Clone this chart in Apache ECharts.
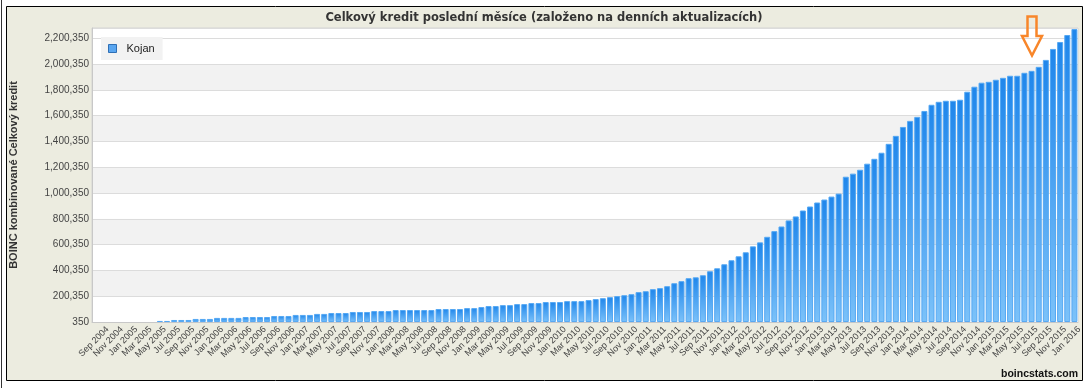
<!DOCTYPE html>
<html><head><meta charset="utf-8">
<script src="https://cdn.jsdelivr.net/npm/echarts@6/dist/echarts.min.js"></script>
<style>html,body{margin:0;padding:0;background:#fff}#c{width:1088px;height:388px}</style>
</head><body><div id="c"></div>
<script>
// Categories: one per month, Sep 2004 .. Feb 2016
const months = [
  'Sep 2004','Oct 2004','Nov 2004','Dec 2004',
  'Jan 2005','Feb 2005','Mar 2005','Apr 2005','May 2005','Jun 2005','Jul 2005','Aug 2005','Sep 2005','Oct 2005','Nov 2005','Dec 2005',
  'Jan 2006','Feb 2006','Mar 2006','Apr 2006','May 2006','Jun 2006','Jul 2006','Aug 2006','Sep 2006','Oct 2006','Nov 2006','Dec 2006',
  'Jan 2007','Feb 2007','Mar 2007','Apr 2007','May 2007','Jun 2007','Jul 2007','Aug 2007','Sep 2007','Oct 2007','Nov 2007','Dec 2007',
  'Jan 2008','Feb 2008','Mar 2008','Apr 2008','May 2008','Jun 2008','Jul 2008','Aug 2008','Sep 2008','Oct 2008','Nov 2008','Dec 2008',
  'Jan 2009','Feb 2009','Mar 2009','Apr 2009','May 2009','Jun 2009','Jul 2009','Aug 2009','Sep 2009','Oct 2009','Nov 2009','Dec 2009',
  'Jan 2010','Feb 2010','Mar 2010','Apr 2010','May 2010','Jun 2010','Jul 2010','Aug 2010','Sep 2010','Oct 2010','Nov 2010','Dec 2010',
  'Jan 2011','Feb 2011','Mar 2011','Apr 2011','May 2011','Jun 2011','Jul 2011','Aug 2011','Sep 2011','Oct 2011','Nov 2011','Dec 2011',
  'Jan 2012','Feb 2012','Mar 2012','Apr 2012','May 2012','Jun 2012','Jul 2012','Aug 2012','Sep 2012','Oct 2012','Nov 2012','Dec 2012',
  'Jan 2013','Feb 2013','Mar 2013','Apr 2013','May 2013','Jun 2013','Jul 2013','Aug 2013','Sep 2013','Oct 2013','Nov 2013','Dec 2013',
  'Jan 2014','Feb 2014','Mar 2014','Apr 2014','May 2014','Jun 2014','Jul 2014','Aug 2014','Sep 2014','Oct 2014','Nov 2014','Dec 2014',
  'Jan 2015','Feb 2015','Mar 2015','Apr 2015','May 2015','Jun 2015','Jul 2015','Aug 2015','Sep 2015','Oct 2015','Nov 2015','Dec 2015',
  'Jan 2016','Feb 2016'
];

// Series: combined total credit (Kojan)
const kojanCredit = [
  350,350,350,350,
  350,350,350,350,350,8500,8500,16000,16000,16000,24000,24000,
  24000,32000,32000,32000,32000,39000,39000,39000,39000,47000,47000,47000,
  55000,55000,55000,63000,63000,70000,70000,70000,78000,78000,78000,85000,
  85000,85000,93000,93000,93000,93000,93000,93000,101000,101000,101000,101000,
  108000,108000,116000,124000,124000,131000,131000,139000,139000,147000,147000,155000,
  155000,155000,162000,162000,162000,170000,178000,185000,193000,201000,208000,216000,
  232000,239000,255000,263000,278000,301000,317000,340000,347000,363000,394000,417000,
  448000,479000,510000,541000,587000,618000,661000,705000,741000,788000,819000,865000,
  896000,927000,950000,973000,996000,1127000,1151000,1181000,1228000,1266000,1313000,1382000,
  1444000,1513000,1560000,1591000,1637000,1685000,1708000,1716000,1716000,1724000,1786000,1825000,
  1856000,1863000,1879000,1894000,1910000,1910000,1933000,1948000,1979000,2033000,2118000,2172000,
  2226000,2272000
];

// Value-axis settings (ticks start at 350, step 200,000)
const yMin = 350;
const yMax = 2280350;
const yStep = 200000;

const seriesName = 'Kojan';
const titleText = 'Celkový kredit poslední měsíce (založeno na denních aktualizacích)';
const yAxisName = 'BOINC kombinované Celkový kredit';
const sourceText = 'boincstats.com';

const FONT = '"Liberation Sans", Arial, sans-serif';
const TFONT = '"DejaVu Sans", Verdana, sans-serif';
const chart = echarts.init(document.getElementById('c'), null, {renderer: 'canvas'});

const bandColors = [];
const nBands = Math.ceil((yMax - yMin) / yStep);
for (let i = 0; i < nBands; i++) bandColors.push(i === nBands - 1 ? '#ffffff' : (i % 2 ? '#f2f2f2' : '#ffffff'));

chart.setOption({
  backgroundColor: '#ffffff',
  animation: false,
  textStyle: {fontFamily: FONT},
  graphic: [
    {type: 'rect', z: -100, silent: true,
     shape: {x: 6.5, y: 6.5, width: 1076, height: 374},
     style: {fill: '#ECECE0', stroke: '#000000', lineWidth: 1}},
    {type: 'line', z: -100, silent: true,
     shape: {x1: 1.5, y1: 0, x2: 1.5, y2: 388},
     style: {stroke: '#333333', lineWidth: 1}},
    {type: 'polygon', z: 100, silent: true,
     shape: {points: [[1027.5,16.5],[1036.5,16.5],[1036.5,36],[1042,36],[1032,55.5],[1022,36],[1027.5,36]]},
     style: {fill: 'none', stroke: '#f8862a', lineWidth: 2.5, lineJoin: 'miter'}}
  ],
  title: [
    {text: titleText, left: 'center', top: 12, padding: 0,
     textStyle: {fontSize: 11.5, fontWeight: 'bold', color: '#333333', fontFamily: TFONT}},
    {text: sourceText, right: 10, top: 369, padding: 0,
     textStyle: {fontSize: 10.5, fontWeight: 'bold', color: '#111111', fontFamily: FONT}}
  ],
  legend: {
    left: 101, top: 37, orient: 'horizontal',
    padding: [6, 8, 6, 7],
    backgroundColor: '#f2f2f2',
    itemWidth: 8, itemHeight: 8,
    textStyle: {fontSize: 11, color: '#222222', fontFamily: FONT, padding: [0, 0, 0, 5]},
    data: [{name: seriesName, icon: 'rect',
            itemStyle: {color: '#5aa6f0', borderColor: '#2f6fb5', borderWidth: 1}}]
  },
  grid: {left: 92, right: 10, top: 28, bottom: 66, containLabel: false,
         show: true, backgroundColor: '#ffffff', borderColor: '#d4d4d4', borderWidth: 1},
  xAxis: {
    type: 'category', data: months, boundaryGap: true,
    axisTick: {show: false},
    axisLine: {lineStyle: {color: '#c8c8c8'}},
    axisLabel: {interval: 1, rotate: 45, fontSize: 9, color: '#404040', margin: 18,
                padding: [0, -17, 0, 0], fontFamily: FONT}
  },
  yAxis: [
    {type: 'value', min: yMin, max: yMax, show: false, splitLine: {show: false}},
    {type: 'value', min: 0, max: yMax - yMin, interval: yStep, position: 'left',
     name: yAxisName, nameLocation: 'middle', nameGap: 73,
     nameTextStyle: {fontSize: 11, fontWeight: 'bold', color: '#333333', fontFamily: FONT},
     axisLine: {show: true, lineStyle: {color: '#c8c8c8'}},
     axisTick: {show: false},
     axisLabel: {fontSize: 10, color: '#444444', margin: 3, showMaxLabel: false, fontFamily: FONT,
                 formatter: v => (v + yMin).toLocaleString('en-US')},
     splitLine: {show: true, lineStyle: {color: '#dcdcdc'}},
     splitArea: {show: true, areaStyle: {color: bandColors}}}
  ],
  series: [{
    name: seriesName, type: 'bar', yAxisIndex: 0, data: kojanCredit,
    barCategoryGap: '16%',
    itemStyle: {
      color: new echarts.graphic.LinearGradient(0, 0, 0, 1, [
        {offset: 0, color: '#1f86eb'}, {offset: 1, color: '#7cc2f9'}]),
      borderColor: '#55a8f3', borderWidth: 1
    }
  }]
});
</script>
</body></html>
